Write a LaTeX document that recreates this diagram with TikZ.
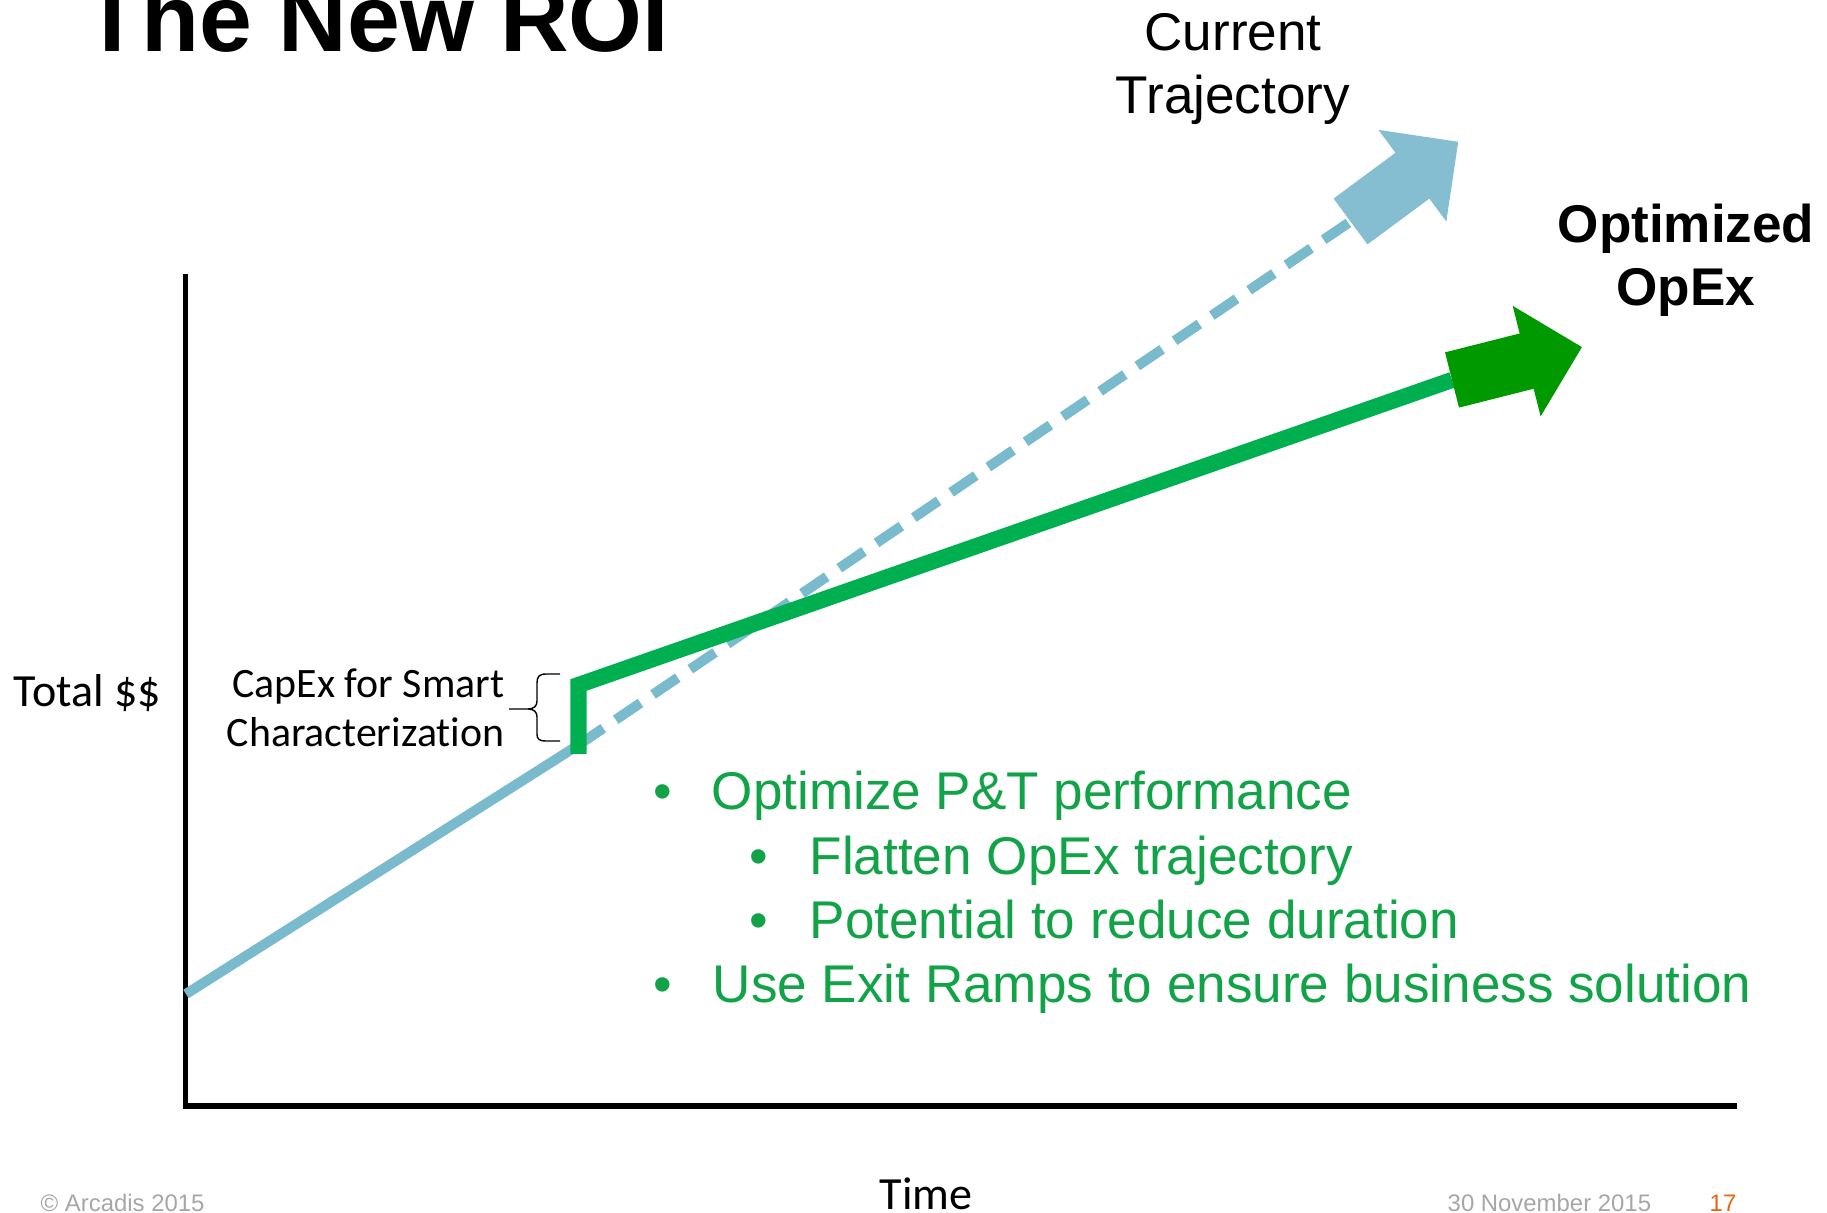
\documentclass[tikz,border=0pt]{standalone}
\usepackage{fontspec}
\setmainfont{Liberation Sans}
\newfontfamily\calibri[Ligatures=NoCommon]{Carlito}
\usetikzlibrary{positioning}

\definecolor{trajblue}{RGB}{122,186,205}
\definecolor{trajarrow}{RGB}{132,190,208}
\definecolor{optgreen}{RGB}{0,176,80}
\definecolor{optarrow}{RGB}{0,153,0}
\definecolor{bulletgreen}{RGB}{18,163,72}
\definecolor{footgray}{RGB}{166,166,166}
\definecolor{pageorange}{RGB}{230,100,20}

\tikzset{
  blockarrow/.pic={
    \fill[pic actions] (0,-28.5) -- (77,-28.5) -- (77,-57) -- (134,0)
      -- (77,57) -- (77,28.5) -- (0,28.5) -- cycle;
  }
}

\begin{document}
\begin{tikzpicture}[
    x=0.01cm, y=-0.01cm,
    axis/.style={line width=1.6pt, line join=miter},
    current/.style={trajblue, line width=2.85pt},
    optimized/.style={optgreen, line width=4.6pt, line join=miter},
    lbl/.style={inner sep=0pt, anchor=base west},
    big/.style={font=\fontsize{15.1pt}{18pt}\selectfont},
    calib/.style={font=\calibri\fontsize{13.1pt}{15pt}\selectfont},
    bullet/.style={lbl, big, text=bulletgreen},
    foot/.style={lbl, text=footgray, font=\fontsize{6.8pt}{8pt}\selectfont}
]
    \useasboundingbox (0,0) rectangle (1827,1213);
    \clip (0,0) rectangle (1827,1213);

    % Title
    \node[lbl, font=\bfseries\fontsize{27pt}{30pt}\selectfont] (title) at (83,52) {The New ROI};

    % Axes
    \coordinate (ytop) at (185.5,274);
    \coordinate (xend) at (1737,1106);
    \draw[axis] (ytop) |- (xend);

    % Trajectories
    \coordinate (start) at (186,994);
    \coordinate (jump) at (578.5,745);
    \coordinate (curend) at (1350.5,221.5);
    \coordinate (capbot) at (578.5,754);
    \coordinate (captop) at (578.5,685);
    \coordinate (optend) at (1452,380);

    \draw[current] (start) -- (jump);
    \draw[current, dash pattern=on 8.5pt off 4.3pt] (jump) -- (curend);
    \draw[optimized] (capbot) -- (captop) -- (optend);

    \pic[fill=trajarrow, rotate=36.5] at (curend) {blockarrow};
    \pic[fill=optarrow, rotate=14.2] at (optend) {blockarrow};

    % Labels (base = last line)
    \node[big, inner sep=0pt, align=center, anchor=base] (curlabel) at (1233,114) {Current\\Trajectory};
    \node[big, inner sep=0pt, align=center, anchor=base, font=\bfseries\fontsize{15.1pt}{18pt}\selectfont] (optlabel) at (1686,306) {Optimized\\OpEx};
    \node[lbl, calib] (total) at (13,707) {Total \$\$};
    \node[lbl, calib] (time) at (879,1209) {Time};
    \node[inner sep=0pt, align=right, anchor=base east, font=\calibri\fontsize{11.9pt}{14.2pt}\selectfont] (capex) at (505,747) {CapEx for Smart\\Characterization};

    % Brace
    \draw[line width=0.4pt] (560,674) -- (546,674) .. controls (539,674) and (537,677) .. (537,683)
        -- (537,701) .. controls (537,706) and (534,709) .. (528,709) -- (509,709)
        (528,709) .. controls (534,709) and (537,712) .. (537,717)
        -- (537,734) .. controls (537,739) and (539,741) .. (546,741) -- (560,741);

    % Bullets
    \node[bullet] (b1) at (653,810) {•};
    \node[bullet] (t1) at (711,810) {Optimize P\&T performance};
    \node[bullet] (b2) at (749,874) {•};
    \node[bullet] (t2) at (809,874) {Flatten OpEx trajectory};
    \node[bullet] (b3) at (749,938) {•};
    \node[bullet] (t3) at (809,938) {Potential to reduce duration};
    \node[bullet] (b4) at (653,1002) {•};
    \node[bullet] (t4) at (712,1002) {Use Exit Ramps to ensure business solution};

    % Footer
    \node[foot] (copy) at (40,1211) {© Arcadis 2015};
    \node[foot] (date) at (1447,1211) {30 November 2015};
    \node[foot, text=pageorange] (page) at (1709,1211) {17};
\end{tikzpicture}
\end{document}
